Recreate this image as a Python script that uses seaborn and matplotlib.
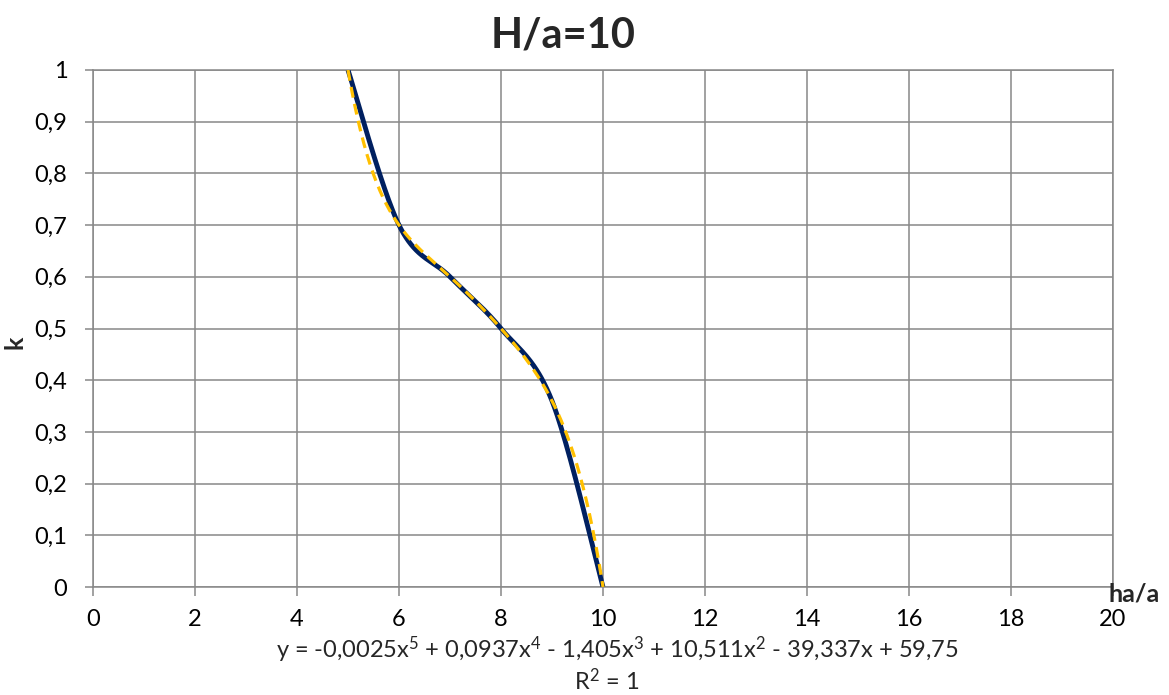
import numpy as np
import pandas as pd
import matplotlib
matplotlib.use("Agg")
import matplotlib.pyplot as plt
import seaborn as sns

# Measured series: k versus ha/a for H/a = 10
ha_a = [5, 6, 7, 8, 9, 10]
k_vals = [1.0, 0.7, 0.6, 0.5, 0.36, 0.0]

x_ticks = [0, 2, 4, 6, 8, 10, 12, 14, 16, 18, 20]
y_ticks = [0, 0.1, 0.2, 0.3, 0.4, 0.5, 0.6, 0.7, 0.8, 0.9, 1.0]
y_tick_labels = ["0", "0,1", "0,2", "0,3", "0,4", "0,5", "0,6", "0,7", "0,8", "0,9", "1"]

title_text = "H/a=10"
x_label = "ha/a"
y_label = "k"
trend_equation = (r"y = -0,0025x$^{5}$ + 0,0937x$^{4}$ - 1,405x$^{3}$ + "
                  r"10,511x$^{2}$ - 39,337x + 59,75")
trend_r2 = r"R$^{2}$ = 1"

NAVY = "#002060"
GOLD = "#FFC000"
GRID = "#888888"


def smooth_curve(xs, ys, n=60):
    """Cubic Bezier smoothing through the points (spreadsheet-style smoothed line)."""
    P = np.column_stack([xs, ys]).astype(float)
    ext = np.vstack([P[0], P, P[-1]])
    out = []
    t = np.linspace(0, 1, n)[:, None]
    for i in range(len(P) - 1):
        p0, p1 = P[i], P[i + 1]
        c1 = p0 + (ext[i + 2] - ext[i]) / 6.0
        c2 = p1 - (ext[i + 3] - ext[i + 1]) / 6.0
        seg = ((1 - t) ** 3) * p0 + 3 * ((1 - t) ** 2) * t * c1 + 3 * (1 - t) * t ** 2 * c2 + t ** 3 * p1
        out.append(seg if i == 0 else seg[1:])
    return np.vstack(out)


sns.set_theme(style="white")
plt.rcParams["font.family"] = ["Lato", "DejaVu Sans"]
plt.rcParams["mathtext.fontset"] = "custom"
plt.rcParams["mathtext.rm"] = "Lato"
plt.rcParams["mathtext.it"] = "Lato"
plt.rcParams["mathtext.bf"] = "Lato:bold"

W, H = 1169, 695
fig = plt.figure(figsize=(W / 100, H / 100), dpi=100)
ax = fig.add_axes([93 / W, 1 - 587 / H, (1113 - 93) / W, (587 - 70) / H])

# smoothed data line
curve = smooth_curve(ha_a, k_vals)
df_curve = pd.DataFrame({"x": curve[:, 0], "y": curve[:, 1]})
sns.lineplot(data=df_curve, x="x", y="y", ax=ax, color=NAVY, linewidth=3.5,
             sort=False, solid_capstyle="butt", zorder=3)

# 5th-order polynomial trendline
coef = np.polyfit(ha_a, k_vals, 5)
xt = np.linspace(min(ha_a), max(ha_a), 400)
df_trend = pd.DataFrame({"x": xt, "y": np.polyval(coef, xt)})
sns.lineplot(data=df_trend, x="x", y="y", ax=ax, color=GOLD, linewidth=2.3,
             sort=False, zorder=4)
ax.lines[-1].set_dashes([3.4, 2.0])

ax.set_xlim(0, 20)
ax.set_ylim(0, 1)
ax.set_xticks(x_ticks)
ax.set_xticklabels([str(v) for v in x_ticks])
ax.set_yticks(y_ticks)
ax.set_yticklabels(y_tick_labels)
ax.set_xlabel("")
ax.set_ylabel("")

ax.grid(True, color=GRID, linewidth=1.1)
ax.set_axisbelow(True)
for side in ax.spines.values():
    side.set_color(GRID)
    side.set_linewidth(1.1)

ax.tick_params(axis="both", which="both", colors=GRID, labelcolor="black",
               width=1.1, labelsize=17, direction="out")
ax.tick_params(axis="y", length=6, pad=12.5, left=True)
ax.tick_params(axis="x", length=6.8, pad=9, bottom=True)

fig.text(563 / W, 1 - 47 / H, title_text, ha="center", va="baseline",
         fontsize=30, fontweight="bold")
fig.text(15 / W, 1 - 342 / H, y_label, ha="center", va="center", rotation=90,
         fontsize=18, fontweight="bold")
fig.text(1109 / W, 1 - 602 / H, x_label, ha="left", va="baseline",
         fontsize=18, fontweight="bold")
fig.text(617 / W, 1 - 658 / H, trend_equation, ha="center", va="baseline", fontsize=17)
fig.text(607 / W, 1 - 690 / H, trend_r2, ha="center", va="baseline", fontsize=17)

fig.savefig("out.png", dpi=100)
